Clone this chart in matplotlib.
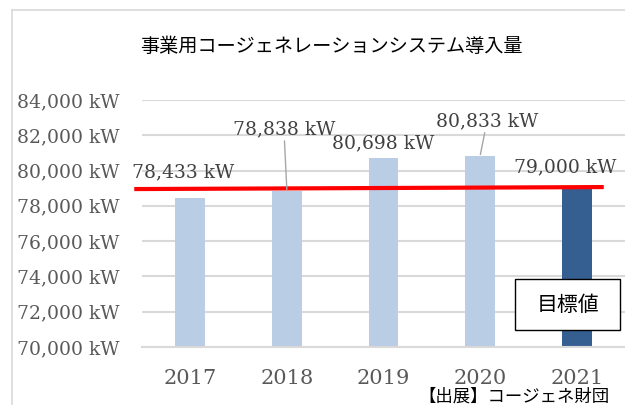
import matplotlib
matplotlib.use("Agg")
import matplotlib.pyplot as plt
from matplotlib.lines import Line2D
from matplotlib.patches import Rectangle
from matplotlib.ticker import FuncFormatter

# ---- data ----
years = ["2017", "2018", "2019", "2020", "2021"]
values = [78433, 78838, 80698, 80833, 79000]
label_texts = ["78,433 kW", "78,838 kW", "80,698 kW", "80,833 kW", "79,000 kW"]
yticks = [70000, 72000, 74000, 76000, 78000, 80000, 82000, 84000]
target_line = [78952, 79065]
title = "事業用コージェネレーションシステム導入量"
box_text = "目標値"
source_text = "【出展】コージェネ財団"

# ---- styling ----
W, H = 625, 405
DPI = 100
light = "#b9cde5"
dark = "#365f91"
grid_c = "#d9d9d9"
tick_c = "#595959"
lab_c = "#404040"
serif = ["DejaVu Serif"]
cjk = ["Noto Sans CJK JP", "DejaVu Sans"]

fig = plt.figure(figsize=(W / DPI, H / DPI), dpi=DPI)

def fx(px):
    return px / W

def fy(py):
    return 1 - py / H

# chart frame
fig.add_artist(Line2D([fx(12), fx(12)], [fy(10), fy(410)], color=grid_c, lw=1.2))
fig.add_artist(Line2D([fx(12), fx(630)], [fy(10), fy(10)], color=grid_c, lw=1.2))

ax = fig.add_axes([fx(142), fy(347), fx(625) - fx(142), fy(100) - fy(347)])
x = list(range(len(years)))
colors = [light] * (len(years) - 1) + [dark]
ax.bar(x, values, width=0.31, color=colors, zorder=2)
ax.set_xlim(-0.5, len(years) - 0.5)
ax.set_ylim(yticks[0], yticks[-1])
ax.set_yticks(yticks)
ax.yaxis.set_major_formatter(FuncFormatter(lambda v, p: f"{int(v):,} kW"))
ax.set_xticks(x)
ax.set_xticklabels(years)
for s in ["top", "right", "left"]:
    ax.spines[s].set_visible(False)
ax.spines["bottom"].set_color(grid_c)
ax.spines["bottom"].set_linewidth(1.5)
ax.grid(axis="y", color=grid_c, lw=1.5, zorder=0)
ax.set_axisbelow(True)
ax.tick_params(axis="y", length=0, pad=16.5, labelsize=13.5, labelcolor=tick_c)
ax.tick_params(axis="x", length=0, pad=16, labelsize=15, labelcolor=tick_c)
for t in ax.get_yticklabels() + ax.get_xticklabels():
    t.set_family(serif)

# target red line
ax.add_line(Line2D([-0.58, 4.28], target_line, color="#ff0000", lw=3.0,
                   zorder=4, clip_on=False, solid_capstyle="butt"))

# data labels (offsets in pixels from bar top)
offsets = [(-7, 26), (-3, 62), (0, 15), (7, 35), (-12, 21)]
leader = [False, True, False, True, False]
for i, (v, txt) in enumerate(zip(values, label_texts)):
    kw = {}
    if leader[i]:
        kw["arrowprops"] = dict(arrowstyle="-", color="#a6a6a6", lw=1.0,
                                shrinkA=0, shrinkB=1)
    ax.annotate(txt, xy=(i, v), xytext=offsets[i], textcoords="offset pixels",
                ha="center", va="center", fontsize=13.5, color=lab_c,
                family=serif, zorder=5, annotation_clip=False, **kw)

# title
fig.text(fx(331), fy(47), title, ha="center", va="center", fontsize=13.8,
         color="#000000", family=cjk)

# target box
fig.add_artist(Rectangle((fx(515), fy(330)), fx(620) - fx(515), fy(279) - fy(330),
                         facecolor="white", edgecolor="black", lw=1.0, zorder=6))
fig.text(fx(567.5), fy(305), box_text, ha="center", va="center", fontsize=15,
         family=cjk, color="#000000", zorder=7)

# source
fig.text(fx(418), fy(402), source_text, ha="left", va="baseline", fontsize=12.5,
         family=cjk, color="#000000")

fig.savefig("out.png", dpi=DPI)
